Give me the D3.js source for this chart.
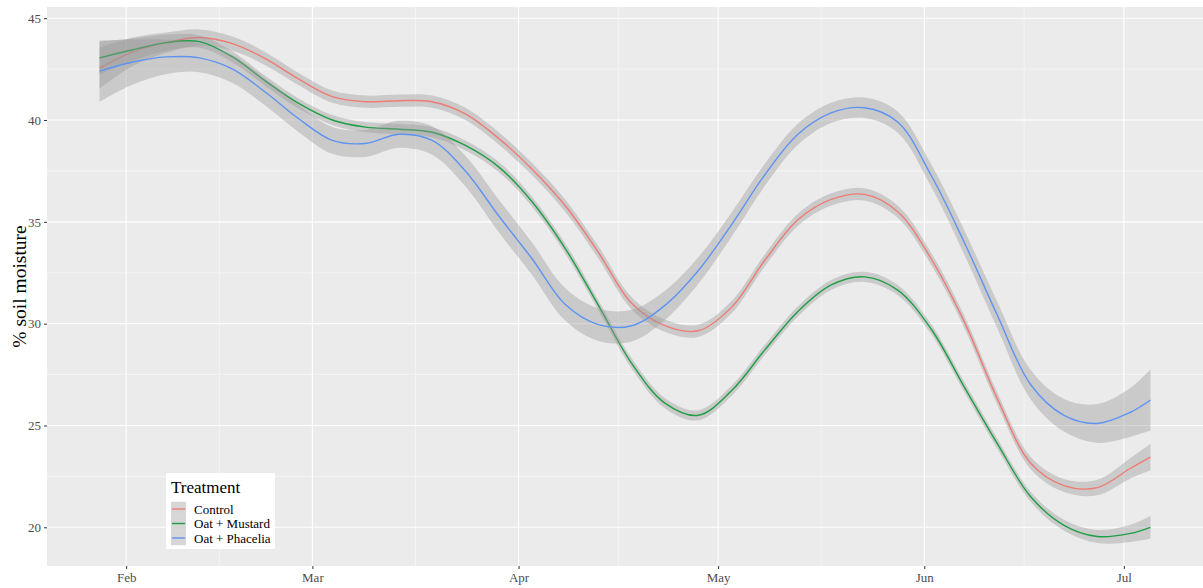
<!DOCTYPE html>
<html>
<head>
<meta charset="utf-8">
<script src="https://cdn.jsdelivr.net/npm/d3@7"></script>
<style>
  html, body { margin: 0; padding: 0; background: #ffffff; }
  svg { display: block; }
</style>
</head>
<body>
<svg id="chart" width="1203" height="588"></svg>
<script>
// Sampling dates for the smoothed soil-moisture fits
const dates = [
  "2021-01-28","2021-02-02","2021-02-07","2021-02-12","2021-02-17","2021-02-22","2021-02-27",
  "2021-03-04","2021-03-09","2021-03-14","2021-03-19","2021-03-24","2021-03-29",
  "2021-04-03","2021-04-08","2021-04-13","2021-04-18","2021-04-23","2021-04-28",
  "2021-05-03","2021-05-08","2021-05-13","2021-05-18","2021-05-23","2021-05-28",
  "2021-06-02","2021-06-07","2021-06-12","2021-06-17","2021-06-22","2021-06-27",
  "2021-07-02","2021-07-05"
];

const treatments = ["Control", "Oat + Mustard", "Oat + Phacelia"];

// Fitted % soil moisture
const controlFit = [42.55,43.35,43.8,44.05,43.75,43.0,42.0,41.15,40.9,40.95,40.9,40.3,39.1,
  37.6,35.8,33.5,31.0,29.9,29.65,30.8,33.1,35.1,36.1,36.35,35.5,33.2,30.1,26.3,23.15,22.05,21.95,22.9,23.45];
const mustardFit = [43.05,43.45,43.8,43.85,43.1,41.9,40.8,40.0,39.65,39.55,39.4,38.75,37.7,
  36.0,33.7,30.9,28.05,26.1,25.5,26.7,28.7,30.6,31.9,32.3,31.65,29.75,26.9,24.1,21.5,20.1,19.55,19.7,20.0];
const phaceliaFit = [42.4,42.85,43.1,43.05,42.5,41.35,40.05,39.0,38.85,39.3,39.0,37.5,35.3,
  33.2,30.95,29.95,29.9,30.9,32.6,34.85,37.3,39.3,40.35,40.6,39.9,37.3,34.0,30.4,27.0,25.5,25.1,25.65,26.25];

// Confidence-band half widths
const controlBand = [1.0,0.7,0.5,0.4,0.35,0.32,0.3,0.3,0.3,0.3,0.3,0.3,0.3,
  0.3,0.3,0.3,0.3,0.3,0.3,0.3,0.3,0.3,0.3,0.3,0.3,0.3,0.3,0.3,0.3,0.32,0.38,0.5,0.65];
const mustardBand = [0.8,0.55,0.4,0.3,0.27,0.25,0.25,0.25,0.25,0.25,0.25,0.25,0.25,
  0.25,0.25,0.25,0.25,0.25,0.25,0.25,0.25,0.25,0.25,0.25,0.25,0.25,0.25,0.25,0.25,0.27,0.32,0.42,0.55];
const phaceliaBand = [1.5,1.1,0.85,0.7,0.68,0.66,0.66,0.66,0.66,0.66,0.7,0.75,0.8,
  0.8,0.8,0.8,0.78,0.72,0.65,0.6,0.55,0.52,0.5,0.5,0.52,0.55,0.6,0.65,0.72,0.8,0.95,1.2,1.5];

const yTicks = [20, 25, 30, 35, 40, 45];
const yDomain = [18.1, 45.55];
const monthTicks = ["2021-02-01","2021-03-01","2021-04-01","2021-05-01","2021-06-01","2021-07-01"];

const colors = ["#ee7b74", "#1f9e46", "#5f93f2"];

const parse = d3.timeParse("%Y-%m-%d");
const dateVals = dates.map(parse);

const series = [
  { name: treatments[0], fit: controlFit, band: controlBand, color: colors[0] },
  { name: treatments[1], fit: mustardFit, band: mustardBand, color: colors[1] },
  { name: treatments[2], fit: phaceliaFit, band: phaceliaBand, color: colors[2] }
].map(s => ({
  ...s,
  points: dateVals.map((d, i) => ({ date: d, y: s.fit[i], lo: s.fit[i] - s.band[i], hi: s.fit[i] + s.band[i] }))
}));

const W = 1203, H = 588;
const panel = { left: 47, top: 7, right: 1203, bottom: 566 };

// x domain: data range padded by 5% on both sides
const xExt = d3.extent(dateVals);
const span = xExt[1] - xExt[0];
const x = d3.scaleTime()
  .domain([new Date(+xExt[0] - span * 0.05), new Date(+xExt[1] + span * 0.05)])
  .range([panel.left, panel.right]);
const y = d3.scaleLinear().domain(yDomain).range([panel.bottom, panel.top]);

const svg = d3.select("#chart");
const serif = "'Liberation Serif', 'Times New Roman', serif";

svg.append("rect").attr("x", panel.left).attr("y", panel.top)
  .attr("width", panel.right - panel.left).attr("height", panel.bottom - panel.top)
  .attr("fill", "#ebebeb");

svg.append("clipPath").attr("id", "clip").append("rect")
  .attr("x", panel.left).attr("y", panel.top)
  .attr("width", panel.right - panel.left).attr("height", panel.bottom - panel.top);

const grid = svg.append("g").attr("clip-path", "url(#clip)");

// minor grid: halfway between major breaks
const monthDates = monthTicks.map(parse);
const minorX = [];
for (let i = 0; i <= monthDates.length; i++) {
  const a = i === 0 ? x(d3.timeMonth.offset(monthDates[0], -1)) : x(monthDates[i - 1]);
  const b = i === monthDates.length ? x(d3.timeMonth.offset(monthDates[i - 1], 1)) : x(monthDates[i]);
  minorX.push((a + b) / 2);
}
const minorY = [17.5, 22.5, 27.5, 32.5, 37.5, 42.5];

grid.selectAll(".minx").data(minorX).join("line")
  .attr("x1", d => d).attr("x2", d => d).attr("y1", panel.top).attr("y2", panel.bottom)
  .attr("stroke", "#fafafa").attr("stroke-width", 0.6);
grid.selectAll(".miny").data(minorY).join("line")
  .attr("x1", panel.left).attr("x2", panel.right).attr("y1", d => y(d)).attr("y2", d => y(d))
  .attr("stroke", "#fafafa").attr("stroke-width", 0.6);
grid.selectAll(".majx").data(monthDates).join("line")
  .attr("x1", d => x(d)).attr("x2", d => x(d)).attr("y1", panel.top).attr("y2", panel.bottom)
  .attr("stroke", "#ffffff").attr("stroke-width", 1.1);
grid.selectAll(".majy").data(yTicks).join("line")
  .attr("x1", panel.left).attr("x2", panel.right).attr("y1", d => y(d)).attr("y2", d => y(d))
  .attr("stroke", "#ffffff").attr("stroke-width", 1.1);

// smooth fits: ribbon then line for each treatment
const plot = svg.append("g").attr("clip-path", "url(#clip)");
const area = d3.area().x(d => x(d.date)).y0(d => y(d.lo)).y1(d => y(d.hi)).curve(d3.curveCatmullRom);
const line = d3.line().x(d => x(d.date)).y(d => y(d.y)).curve(d3.curveCatmullRom);

series.forEach(s => {
  plot.append("path").datum(s.points).attr("d", area)
    .attr("fill", "#999999").attr("fill-opacity", 0.4);
  plot.append("path").datum(s.points).attr("d", line)
    .attr("fill", "none").attr("stroke", s.color).attr("stroke-width", 1.4);
});

// axes
const xAxis = d3.axisBottom(x).tickValues(monthDates).tickFormat(d3.timeFormat("%b")).tickSize(3).tickPadding(4);
const yAxis = d3.axisLeft(y).tickValues(yTicks).tickSize(3).tickPadding(3);

const gx = svg.append("g").attr("transform", `translate(0,${panel.bottom})`).call(xAxis);
const gy = svg.append("g").attr("transform", `translate(${panel.left},0)`).call(yAxis);
[gx, gy].forEach(g => {
  g.select(".domain").remove();
  g.selectAll(".tick line").attr("stroke", "#333333");
  g.selectAll(".tick text").attr("fill", "#4d4d4d").style("font-family", serif).style("font-size", "13px");
});

svg.append("text")
  .attr("transform", `translate(26,${(panel.top + panel.bottom) / 2}) rotate(-90)`)
  .attr("text-anchor", "middle")
  .style("font-family", serif).style("font-size", "19.5px").attr("fill", "#000")
  .text("% soil moisture");

// legend
const lg = svg.append("g").attr("transform", "translate(166,473)");
lg.append("rect").attr("width", 109).attr("height", 76).attr("fill", "#ffffff");
lg.append("text").attr("x", 5).attr("y", 20)
  .style("font-family", serif).style("font-size", "17px").attr("fill", "#000").text("Treatment");
series.forEach((s, i) => {
  const cy = 36 + i * 14.5;
  lg.append("rect").attr("x", 5).attr("y", cy - 7.25).attr("width", 15).attr("height", 14.5)
    .attr("fill", "#999999").attr("fill-opacity", 0.4);
  lg.append("line").attr("x1", 6).attr("x2", 19).attr("y1", cy).attr("y2", cy)
    .attr("stroke", s.color).attr("stroke-width", 1.4);
  lg.append("text").attr("x", 28).attr("y", cy + 4.5)
    .style("font-family", serif).style("font-size", "13px").attr("fill", "#000").text(s.name);
});
</script>
</body>
</html>
